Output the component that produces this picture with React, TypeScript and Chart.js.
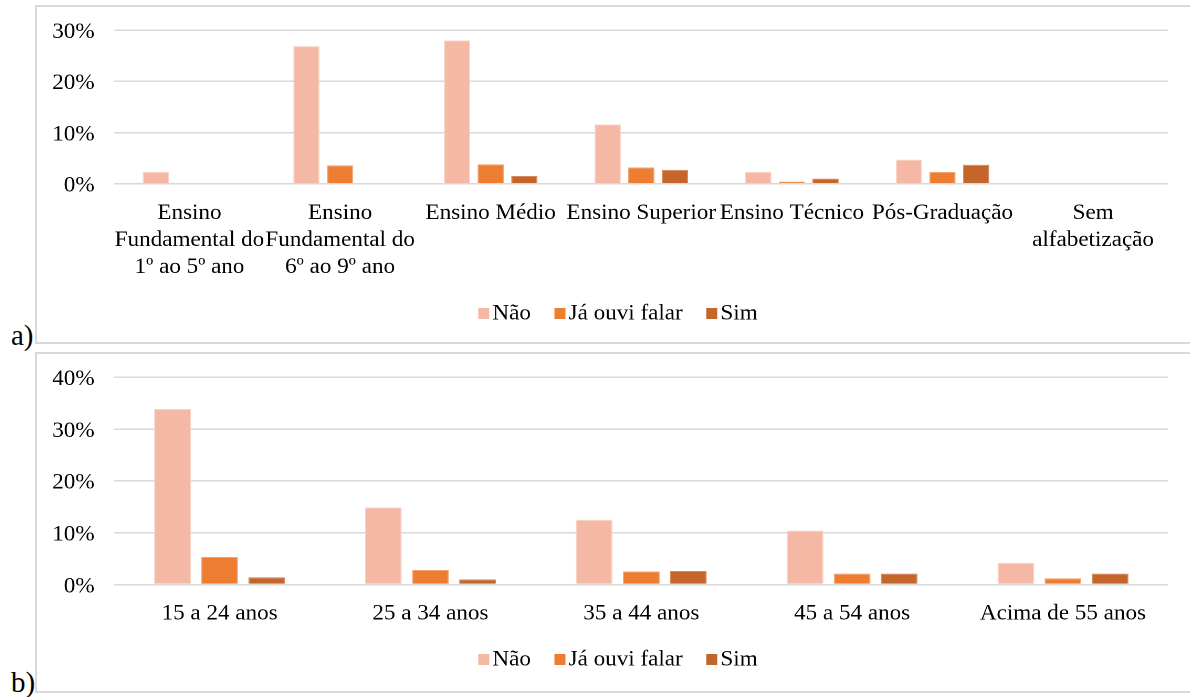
import { useEffect, useRef } from "react";
import { Chart, registerables } from "chart.js";

Chart.register(...registerables);

const FONT_FAMILY = '"Liberation Serif", "Times New Roman", serif';
const TEXT_COLOR = "#000000";
const GRID_COLOR = "#d9d9d9";

// Series shared by both panels
const seriesNames = ["Não", "Já ouvi falar", "Sim"];
const seriesColors = ["#F4B8A4", "#ED7D31", "#C4652A"];
const seriesEdges = ["#F9D3C6", "#F3A56F", "#D98A5C"];

// Panel a) – schooling
const educationLabels = [
  ["Ensino", "Fundamental do", "1º ao 5º ano"],
  ["Ensino", "Fundamental do", "6º ao 9º ano"],
  "Ensino Médio",
  "Ensino Superior",
  "Ensino Técnico",
  "Pós-Graduação",
  ["Sem", "alfabetização"],
];
const educationNao = [2.3, 26.9, 28.0, 11.6, 2.3, 4.7, 0];
const educationJa = [0, 3.6, 3.8, 3.2, 0.4, 2.3, 0];
const educationSim = [0, 0, 1.5, 2.7, 1.0, 3.7, 0];
const educationMax = 30;

// Panel b) – age groups
const ageLabels = ["15 a 24 anos", "25 a 34 anos", "35 a 44 anos", "45 a 54 anos", "Acima de 55 anos"];
const ageNao = [33.9, 14.9, 12.5, 10.4, 4.2];
const ageJa = [5.3, 2.8, 2.5, 2.1, 1.2];
const ageSim = [1.4, 1.0, 2.6, 2.1, 2.1];
const ageMax = 40;

const tickStep = 10;

// Horizontal stretch applied to the drawing surface
const STRETCH = 1.05;
const SURFACE_WIDTH = 1098;

// Legend row drawn under the x-axis labels
const seriesLegend = {
  id: "seriesLegend",
  afterDraw(chart: any, _args: any, opts: any) {
    const ctx = chart.ctx as CanvasRenderingContext2D;
    ctx.save();
    ctx.font = `22px ${FONT_FAMILY}`;
    const items = chart.data.datasets.map((ds: any) => ({
      label: ds.label as string,
      color: ds.backgroundColor as string,
      w: ctx.measureText(ds.label).width,
    }));
    const total =
      items.reduce((s: number, it: any) => s + opts.boxW + opts.gap + it.w, 0) +
      opts.spacing * (items.length - 1);
    let x = chart.width / 2 + opts.shift - total / 2;
    const y = opts.y;
    ctx.textBaseline = "middle";
    ctx.textAlign = "left";
    for (const it of items) {
      ctx.fillStyle = it.color;
      ctx.fillRect(x, y - opts.boxH / 2, opts.boxW, opts.boxH);
      x += opts.boxW + opts.gap;
      ctx.fillStyle = TEXT_COLOR;
      ctx.fillText(it.label, x, y);
      x += it.w + opts.spacing;
    }
    ctx.restore();
  },
};

type PanelProps = {
  labels: (string | string[])[];
  values: number[][];
  max: number;
  height: number;
  plotTop: number;
  axisHeight: number;
  labelPadding: number;
  legendY: number;
};

function BarPanel({ labels, values, max, height, plotTop, axisHeight, labelPadding, legendY }: PanelProps) {
  const canvasRef = useRef<HTMLCanvasElement | null>(null);

  useEffect(() => {
    if (!canvasRef.current) return;
    const font = { family: FONT_FAMILY, size: 22, lineHeight: 27 / 22 };
    const chart = new Chart(canvasRef.current, {
      type: "bar",
      data: {
        labels,
        datasets: seriesNames.map((name, i) => ({
          label: name,
          data: values[i],
          backgroundColor: seriesColors[i],
          borderColor: seriesEdges[i],
          borderWidth: 1,
          categoryPercentage: 0.67,
          barPercentage: 0.78,
        })),
      },
      options: {
        animation: false,
        responsive: true,
        maintainAspectRatio: false,
        devicePixelRatio: 2,
        layout: { padding: { top: plotTop, right: 20.5, left: 0, bottom: 0 } },
        plugins: {
          legend: { display: false },
          tooltip: { enabled: false },
          seriesLegend: { y: legendY, boxW: 10.5, boxH: 11, gap: 3, spacing: 22.4, shift: 4.3 },
        } as any,
        scales: {
          x: {
            grid: { display: false, drawTicks: false },
            border: { display: false },
            ticks: {
              autoSkip: false,
              maxRotation: 0,
              minRotation: 0,
              padding: labelPadding,
              color: TEXT_COLOR,
              font,
            },
            afterFit: (scale: any) => {
              scale.height = axisHeight;
              scale.paddingLeft = 0;
              scale.paddingRight = 0;
            },
          },
          y: {
            min: 0,
            max,
            grid: { color: GRID_COLOR, lineWidth: 1.5, drawTicks: false },
            border: { display: false },
            ticks: {
              stepSize: tickStep,
              padding: 18.7,
              labelOffset: 2,
              color: TEXT_COLOR,
              font: { family: FONT_FAMILY, size: 22 },
              callback: (v: any) => `${v}%`,
            },
            afterFit: (scale: any) => {
              scale.width = 73.5;
              scale.paddingTop = 0;
              scale.paddingBottom = 0;
            },
          },
        },
      },
      plugins: [seriesLegend],
    });
    return () => chart.destroy();
  }, [labels, values, max, plotTop, axisHeight, labelPadding, legendY]);

  return (
    <div
      style={{
        width: SURFACE_WIDTH,
        height,
        transform: `scaleX(${STRETCH})`,
        transformOrigin: "0 0",
      }}
    >
      <canvas ref={canvasRef} style={{ display: "block" }} />
    </div>
  );
}

const educationValues = [educationNao, educationJa, educationSim];
const ageValues = [ageNao, ageJa, ageSim];

const frameStyle = (top: number, height: number): React.CSSProperties => ({
  position: "absolute",
  left: 35,
  top,
  width: 1175,
  height,
  border: `2px solid ${GRID_COLOR}`,
  boxSizing: "border-box",
});

const tagStyle = (top: number): React.CSSProperties => ({
  position: "absolute",
  left: 11,
  top,
  fontFamily: FONT_FAMILY,
  fontSize: 29,
  lineHeight: "29px",
  color: "#000",
});

export default function App() {
  useEffect(() => {
    document.body.style.margin = "0";
    document.body.style.background = "#fff";
  }, []);

  return (
    <div style={{ position: "relative", width: 1190, height: 697, overflow: "hidden", background: "#fff" }}>
      <div style={frameStyle(5, 339)} />
      <div style={frameStyle(352, 341)} />
      <div style={{ position: "absolute", left: 37, top: 7 }}>
        <BarPanel
          labels={educationLabels}
          values={educationValues}
          max={educationMax}
          height={335}
          plotTop={23.3}
          axisHeight={158.3}
          labelPadding={16}
          legendY={306.5}
        />
      </div>
      <div style={{ position: "absolute", left: 37, top: 354 }}>
        <BarPanel
          labels={ageLabels}
          values={ageValues}
          max={ageMax}
          height={337}
          plotTop={23.3}
          axisHeight={106.5}
          labelPadding={15.5}
          legendY={305.5}
        />
      </div>
      <span style={tagStyle(320.7)}>a)</span>
      <span style={tagStyle(667.7)}>b)</span>
    </div>
  );
}
